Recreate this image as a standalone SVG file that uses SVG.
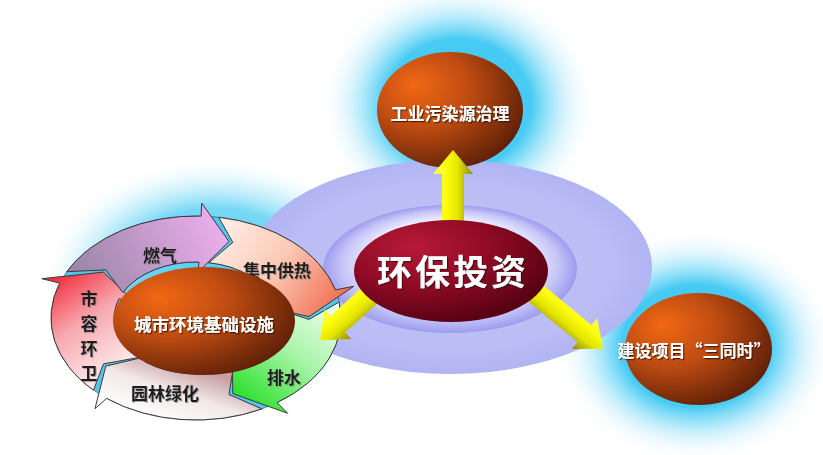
<svg xmlns="http://www.w3.org/2000/svg" width="823" height="455" viewBox="0 0 823 455">
<defs>
<style>
.lbl{font-family:"Noto Sans CJK SC","Noto Sans CJK JP",sans-serif;font-weight:700;text-anchor:middle}
.wt{fill:#ffffff;filter:url(#tsw)}
.dk{fill:#1c1c1c;filter:url(#tsd)}
.seg{stroke:#3a3a3a;stroke-width:1}
</style>
<filter id="tsw" x="-10%" y="-30%" width="120%" height="160%"><feDropShadow dx="1.2" dy="1.2" stdDeviation="0.7" flood-color="#2a0a00" flood-opacity="0.75"/></filter>
<filter id="tsd" x="-10%" y="-30%" width="120%" height="160%"><feDropShadow dx="1" dy="1" stdDeviation="0.6" flood-color="#777" flood-opacity="0.6"/></filter>
<radialGradient id="glow" cx="0.5" cy="0.5" r="0.5">
<stop offset="0" stop-color="#3cc8f2"/>
<stop offset="0.52" stop-color="#48caf3"/>
<stop offset="0.64" stop-color="#86ddf8" stop-opacity="0.85"/>
<stop offset="0.8" stop-color="#c6eefc" stop-opacity="0.5"/>
<stop offset="1" stop-color="#ffffff" stop-opacity="0"/>
</radialGradient>
<radialGradient id="glowL" cx="0.5" cy="0.5" r="0.5">
<stop offset="0" stop-color="#50ccf3"/>
<stop offset="0.6" stop-color="#78d8f6"/>
<stop offset="0.8" stop-color="#c0eefb" stop-opacity="0.6"/>
<stop offset="1" stop-color="#ffffff" stop-opacity="0"/>
</radialGradient>
<radialGradient id="lav" cx="0.5" cy="0.5" r="0.5">
<stop offset="0" stop-color="#c4c4f8"/>
<stop offset="0.8" stop-color="#bcbcf6"/>
<stop offset="1" stop-color="#b0b4f2"/>
</radialGradient>
<radialGradient id="ring" cx="0.5" cy="0.5" r="0.5" fx="0.5" fy="0.3">
<stop offset="0" stop-color="#ffffff"/>
<stop offset="0.6" stop-color="#f2f2fe"/>
<stop offset="0.85" stop-color="#c6c6f8"/>
<stop offset="1" stop-color="#9c9cee"/>
</radialGradient>
<radialGradient id="brown" cx="0.35" cy="0.35" r="0.75" fx="0.25" fy="0.28">
<stop offset="0" stop-color="#f26814"/>
<stop offset="0.45" stop-color="#bf4c12"/>
<stop offset="1" stop-color="#561c06"/>
</radialGradient>
<radialGradient id="red" cx="0.35" cy="0.3" r="0.8" fx="0.3" fy="0.25">
<stop offset="0" stop-color="#b81a38"/>
<stop offset="0.5" stop-color="#8c0a24"/>
<stop offset="1" stop-color="#4c0010"/>
</radialGradient>
<linearGradient id="ya" x1="0" y1="0" x2="0" y2="1">
<stop offset="0" stop-color="#f6f66a"/>
<stop offset="0.3" stop-color="#ffff10"/>
<stop offset="0.62" stop-color="#e4e400"/>
<stop offset="1" stop-color="#8a8a00"/>
</linearGradient>
<linearGradient id="yb" x1="0" y1="1" x2="0" y2="0">
<stop offset="0" stop-color="#f6f66a"/>
<stop offset="0.3" stop-color="#ffff10"/>
<stop offset="0.62" stop-color="#e4e400"/>
<stop offset="1" stop-color="#8a8a00"/>
</linearGradient>
<linearGradient id="gRan" gradientUnits="userSpaceOnUse" x1="80" y1="285" x2="225" y2="215">
<stop offset="0" stop-color="#9a86a8"/>
<stop offset="1" stop-color="#f0b0f0"/>
</linearGradient>
<linearGradient id="gJi" gradientUnits="userSpaceOnUse" x1="215" y1="225" x2="340" y2="310">
<stop offset="0" stop-color="#fff0e8"/>
<stop offset="0.5" stop-color="#fbc8b4"/>
<stop offset="1" stop-color="#f06a4c"/>
</linearGradient>
<linearGradient id="gPai" gradientUnits="userSpaceOnUse" x1="335" y1="300" x2="250" y2="405">
<stop offset="0" stop-color="#f4fff4"/>
<stop offset="0.5" stop-color="#a8f4a8"/>
<stop offset="1" stop-color="#2ee02e"/>
</linearGradient>
<linearGradient id="gYuan" gradientUnits="userSpaceOnUse" x1="150" y1="420" x2="170" y2="360">
<stop offset="0" stop-color="#ffffff"/>
<stop offset="0.55" stop-color="#f2e8e8"/>
<stop offset="1" stop-color="#c8a0a4"/>
</linearGradient>
<linearGradient id="gShi" gradientUnits="userSpaceOnUse" x1="45" y1="278" x2="115" y2="385">
<stop offset="0" stop-color="#f02434"/>
<stop offset="0.45" stop-color="#f8a8b0"/>
<stop offset="1" stop-color="#fff6f6"/>
</linearGradient>
</defs>

<g id="background">
<ellipse cx="215" cy="285" rx="175" ry="128" fill="url(#glowL)"/>
<ellipse cx="458" cy="104" rx="140" ry="125" fill="url(#glow)"/>
<ellipse cx="696" cy="346" rx="142" ry="118" fill="url(#glow)"/>
<ellipse cx="450" cy="267" rx="202" ry="107" fill="url(#lav)"/>
<ellipse cx="450" cy="269" rx="127" ry="64" fill="url(#ring)"/>
</g>

<g id="node-top">
<ellipse cx="450" cy="110" rx="73" ry="58" fill="url(#brown)"/>
<text class="lbl wt" x="450" y="120" font-size="17">工业污染源治理</text>
</g>

<g id="node-right">
<ellipse cx="698.5" cy="349" rx="73.5" ry="56" fill="url(#brown)"/>
<text class="lbl wt" x="694" y="357" font-size="17">建设项目“三同时”</text>
</g>

<g id="cycle">
<path d="M51,318 A145,102 0 1 1 341,318 A145,102 0 1 1 51,318 Z M114,318 A82,56 0 1 0 278,318 A82,56 0 1 0 114,318 Z" fill="#52c6ec" fill-rule="evenodd" stroke="#3a3a3a" stroke-width="0.6"/>
<g id="node-shirong">
<path class="seg" fill="url(#gShi)" d="M93.5,390.1 A145,102 0 0 1 59.7,283.1 L41.9,278.7 L103.4,272.1 L134.9,302.3 L118.9,298.8 A82,56 0 0 0 138,357.6 L103.4,363.9 Z"/>
</g>
<g id="node-ranqi">
<path class="seg" fill="url(#gRan)" d="M66.8,271.7 A145,102 0 0 1 201.1,216.1 L201.7,203.1 L229,241.5 L198.3,272 L198.9,262 A82,56 0 0 0 122.9,292.6 L105.8,269.9 Z"/>
<text class="lbl dk" x="160" y="262" font-size="17">燃气</text>
</g>
<g id="node-jizhong">
<path class="seg" fill="url(#gJi)" d="M218.7,217.3 A145,102 0 0 1 335.4,289.9 L353.7,286.3 L309,316.6 L258.5,305.3 L274.8,302.6 A82,56 0 0 0 208.8,262.7 L232.8,242.4 Z"/>
<text class="lbl dk" x="277" y="277" font-size="17">集中供热</text>
</g>
<g id="node-paishui">
<path class="seg" fill="url(#gPai)" d="M339.2,302 A145,102 0 0 1 277.1,402.6 L287.7,413.3 L232.8,393.6 L232.3,356.1 L241.9,364.4 A82,56 0 0 0 277,309.2 L309,319.4 Z"/>
<text class="lbl dk" x="284" y="384" font-size="17">排水</text>
</g>
<g id="node-yuanlin">
<path class="seg" fill="url(#gYuan)" d="M261.8,408.9 A145,102 0 0 1 106.7,398.4 L95,408.6 L105.8,366.1 L156,354.2 L145.5,362.1 A82,56 0 0 0 233.2,367.9 L229,394.5 Z"/>
<text class="lbl dk" x="165" y="400" font-size="17">园林绿化</text>
</g>
<text class="lbl dk" font-size="17"><tspan x="89" y="305">市</tspan><tspan x="89" y="330">容</tspan><tspan x="89" y="355">环</tspan><tspan x="89" y="380">卫</tspan></text>
</g>

<g id="node-left">
<ellipse cx="204" cy="321" rx="91" ry="54" fill="url(#brown)"/>
<text class="lbl wt" x="204" y="331" font-size="17.5">城市环境基础设施</text>
</g>

<g id="connectors">
<polygon transform="translate(453,222) rotate(-90)" fill="url(#ya)" points="0,-11 48,-11 48,-20 72,0 48,20 48,11 0,11"/>
<polygon transform="translate(378,288) rotate(138)" fill="url(#yb)" points="0,-11 54,-11 54,-20 78,0 54,20 54,11 0,11"/>
<polygon transform="translate(522,282) rotate(39.5)" fill="url(#ya)" points="0,-11 81,-11 81,-20 105,0 81,20 81,11 0,11"/>
</g>

<g id="node-center">
<ellipse cx="451" cy="271" rx="97" ry="51" fill="url(#red)"/>
<text class="lbl" x="453" y="285" font-size="35" font-weight="400" letter-spacing="3" fill="#ffffff" filter="url(#tsw)">环保投资</text>
</g>
</svg>
